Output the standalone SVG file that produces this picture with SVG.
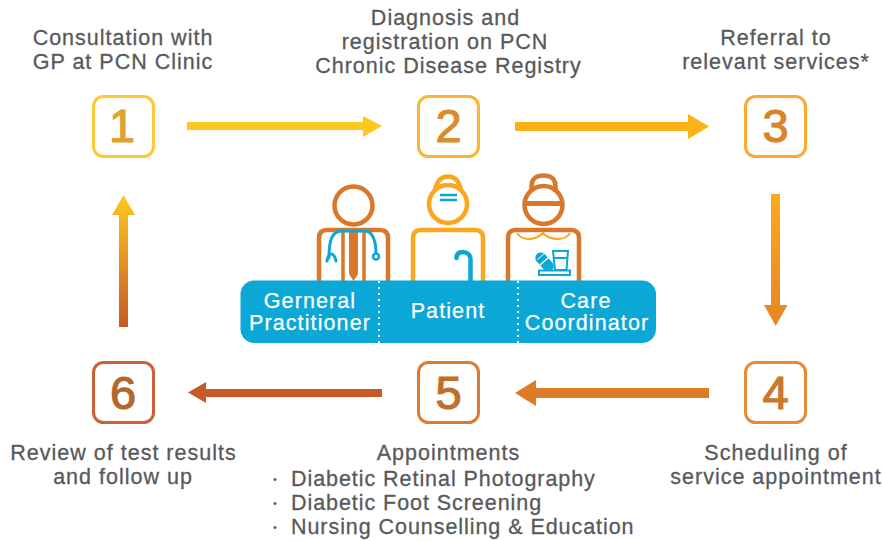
<svg xmlns="http://www.w3.org/2000/svg" width="882" height="541" viewBox="0 0 882 541">
<style>
text{font-family:"Liberation Sans",Arial,sans-serif}
.l{font-size:21.5px;fill:#58595b;text-anchor:middle;letter-spacing:1px;stroke:#58595b;stroke-width:.3px}
.s{text-anchor:start;letter-spacing:.94px}
.d{font-size:11px;fill:#58595b}
.n{font-size:47px;text-anchor:middle;stroke-width:1.2px}
.w{font-size:21.500px;fill:#fff;text-anchor:middle;letter-spacing:1.1px;stroke:#fff;stroke-width:.25px}
.b{fill:#fff;stroke-width:3px}
.o{fill:none;stroke:#d9782a;stroke-width:4.5px}
.y{fill:none;stroke:#fba61f;stroke-width:4.5px}
.c{fill:none;stroke:#0ba7d6;stroke-width:3px;stroke-linecap:round}
</style>
<defs>
<linearGradient id="gd" gradientUnits="userSpaceOnUse" x1="0" y1="194" x2="0" y2="326"><stop offset="0" stop-color="#fbaa1c"/><stop offset="1" stop-color="#e58524"/></linearGradient>
<linearGradient id="gu" gradientUnits="userSpaceOnUse" x1="0" y1="195" x2="0" y2="327"><stop offset="0" stop-color="#fec91e"/><stop offset="1" stop-color="#c85a27"/></linearGradient>
</defs>
<g id="connectors">
<path fill="#fec91e" d="M187 122H363V116L382 126L363 137V130H187Z"/>
<path fill="#fcb216" d="M515 122H688V114L709 126.500L688 139V131H515Z"/>
<path fill="url(#gd)" d="M771 194H780V305H787.500L775.700 326L764 305H771Z"/>
<path fill="#df7a26" d="M709 388V398H536V406L515 393L536 380V388Z"/>
<path fill="#c85a27" d="M382 389V397H206V403L188 392.500L206 382V389Z"/>
<path fill="url(#gu)" d="M119 327H128V215H135L123.500 195L112 215H119Z"/>
</g>
<g id="node-1"><rect class="b" x="93.500" y="96.500" width="60" height="60" rx="10" stroke="#fec835"/><text class="n" x="122" y="142" fill="#e2a02c" stroke="#e2a02c">1</text>
<text class="l" x="123" y="44.500">Consultation with</text><text class="l" x="123" y="68.500">GP at PCN Clinic</text></g>
<g id="node-2"><rect class="b" x="418.500" y="96.500" width="60" height="60" rx="10" stroke="#fbb534"/><text class="n" x="448.500" y="142" fill="#db8c2b" stroke="#db8c2b">2</text>
<text class="l" x="445.500" y="24.500">Diagnosis and</text><text class="l" x="445" y="48.500">registration on PCN</text><text class="l" x="448.500" y="72.500">Chronic Disease Registry</text></g>
<g id="node-3"><rect class="b" x="745.500" y="96.500" width="60" height="60" rx="10" stroke="#fba932"/><text class="n" x="775.500" y="142" fill="#d9832b" stroke="#d9832b">3</text>
<text class="l" x="776" y="44.500">Referral to</text><text class="l" x="776" y="68.500">relevant services*</text></g>
<g id="node-4"><rect class="b" x="745.500" y="362.500" width="60" height="60" rx="10" stroke="#e98a35"/><text class="n" x="775.500" y="408.500" fill="#c9792c" stroke="#c9792c">4</text>
<text class="l" x="776" y="460">Scheduling of</text><text class="l" x="776" y="484">service appointment</text></g>
<g id="node-5"><rect class="b" x="418.500" y="362.500" width="60" height="60" rx="10" stroke="#dc7a35"/><text class="n" x="448.500" y="408.500" fill="#bf6f2b" stroke="#bf6f2b">5</text>
<text class="l" x="448.500" y="460">Appointments</text>
<text class="d" x="273" y="483">•</text><text class="l s" x="291" y="486">Diabetic Retinal Photography</text>
<text class="d" x="273" y="507">•</text><text class="l s" x="291" y="510">Diabetic Foot Screening</text>
<text class="d" x="273" y="531">•</text><text class="l s" x="291" y="534">Nursing Counselling &amp; Education</text></g>
<g id="node-6"><rect class="b" x="93.500" y="362.500" width="60" height="60" rx="10" stroke="#cb6136"/><text class="n" x="123" y="408.500" fill="#b5672a" stroke="#b5672a">6</text>
<text class="l" x="123.500" y="460">Review of test results</text><text class="l" x="123" y="484">and follow up</text></g>
<g id="gp">
<circle class="o" cx="353.500" cy="205.500" r="19"/>
<path class="o" d="M319 282V238Q319 230 327 230H380Q388 230 388 238V282"/>
<path class="o" style="stroke-width:3.500px" d="M343 230V282M364 230V282"/>
<path fill="#d9782a" d="M349 231H358V274L353.500 281L349 274Z"/>
<path class="c" d="M329 258C329 242 331 231 342 231H365C373 231 376 242 376 254"/>
<path class="c" d="M327 261C328 256 329 254 331 254C333 254 335 256 336 261"/>
<circle cx="376" cy="256.500" r="3" fill="#fff" stroke="#0ba7d6" stroke-width="2.500"/>
</g>
<g id="patient">
<circle class="y" cx="448" cy="204" r="19"/>
<path class="y" d="M435 190C437 180 442 176.500 448 176.500C454 176.500 459 180 461 190"/>
<path d="M440 195H457M440 200H457" stroke="#0ba7d6" stroke-width="2.500"/>
<path class="y" d="M413 282V238Q413 230 421 230H475Q483 230 483 238V282"/>
<path fill="none" stroke="#0ba7d6" stroke-width="4.500" stroke-linecap="round" d="M456.500 258C456.500 254 459 252 463 252C467 252 470.500 255 470.500 259V282"/>
</g>
<g id="care-coordinator">
<path class="o" d="M531.500 192V186C531.500 179 536 175.500 543.500 175.500C551 175.500 555.500 179 555.500 186V192"/>
<circle class="o" cx="543.500" cy="205" r="19"/>
<path d="M524 203.500H563" stroke="#d9782a" stroke-width="5"/>
<path class="o" d="M508 282V238Q508 230 516 230H571Q579 230 579 238V282"/>
<path fill="none" stroke="#fba61f" stroke-width="2" d="M517 233C522 241 535 241 543 233C551 241 565 241 570 233"/>
<rect x="539" y="251" width="11" height="22" rx="5.500" transform="rotate(-42 544.500 262)" fill="#0ba7d6"/>
<path d="M537.500 259.500L546 252" stroke="#fff" stroke-width="1"/>
<path d="M540 265L549 257" stroke="#fff" stroke-width="1.500"/>
<path fill="#fff" stroke="#0ba7d6" stroke-width="2" d="M553 251H568L566.500 270H555Z"/>
<path d="M553.500 258H567.500" stroke="#0ba7d6" stroke-width="2"/>
<rect x="539" y="270.500" width="31" height="4.500" fill="#fff" stroke="#0ba7d6" stroke-width="2"/>
</g>
<g id="bar">
<rect x="240.500" y="280.500" width="415.500" height="62.500" rx="14" fill="#0ba7d6"/>
<path d="M379 281V343M518 281V343" stroke="#fff" stroke-width="2" stroke-dasharray="2 4"/>
<text class="w" x="310" y="308">Gerneral</text><text class="w" x="310" y="329.500">Practitioner</text>
<text class="w" x="448" y="318">Patient</text>
<text class="w" x="586" y="308">Care</text><text class="w" x="587" y="329.500">Coordinator</text>
</g>
</svg>
